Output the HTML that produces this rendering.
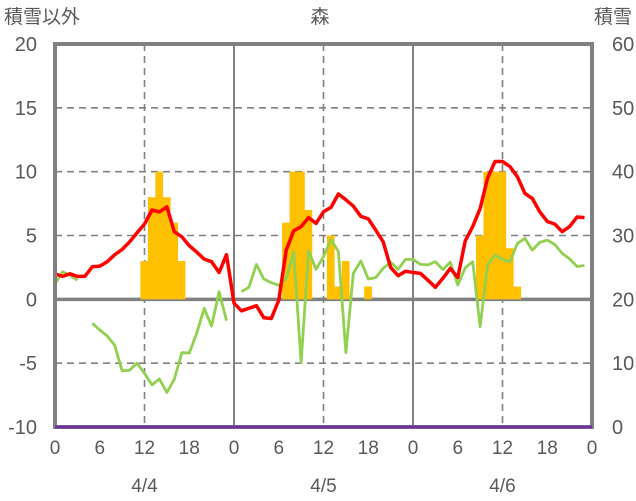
<!DOCTYPE html>
<html><head><meta charset="utf-8">
<style>
html,body{margin:0;padding:0;background:#fff;}
svg{display:block;font-family:"Liberation Sans","Noto Sans CJK JP",sans-serif;}
</style></head>
<body>
<svg id="chart" width="636" height="501" viewBox="0 0 636 501" xmlns="http://www.w3.org/2000/svg">
<text x="4" y="23" font-size="19" fill="#595959">積雪以外</text>
<text x="320" y="23" font-size="19" fill="#595959" text-anchor="middle">森</text>
<text x="632" y="23" font-size="19" fill="#595959" text-anchor="end">積雪</text>
<g id="grid"></g>
<g id="bars"></g>
<g id="lines"></g>
<g id="frame"></g>
<g id="labels"></g>
</svg>
<script>
const leftTicks = [20, 15, 10, 5, 0, -5, -10];
const rightTicks = ["60", "50", "40", "30", "20", "10", "0"];
const hourTickLabels = ["0","6","12","18","0","6","12","18","0","6","12","18","0"];
const dateLabels = ["4/4", "4/5", "4/6"];
const snowfallHours = [12,13,14,15,16,17,31,32,33,34,37,38,39,42,57,58,59,60,61,62];
const snowfallValues = [3,8,10,8,6,3,6,10,10,7,5,1,3,1,5,10,10,10,4,1];
const redSeries = [2.0,1.8,2.0,1.8,1.8,2.55,2.6,2.95,3.5,3.9,4.5,5.2,5.9,7.0,6.85,7.25,5.3,4.9,4.2,3.7,3.15,2.95,2.1,3.5,
 -0.3,-0.9,-0.7,-0.5,-1.44,-1.5,-0.06,3.85,5.37,5.7,6.4,5.95,6.86,7.2,8.25,7.8,7.3,6.5,6.3,5.43,4.5,2.5,1.85,2.2,
 2.1,2.03,1.5,0.94,1.64,2.42,1.7,4.57,5.7,7.1,9.5,10.8,10.8,10.4,9.6,8.3,7.9,6.86,6.1,5.9,5.3,5.7,6.45,6.4];
const greenSeries = [1.2,2.16,1.9,1.5,null,-1.88,-2.4,-2.87,-3.6,-5.6,-5.55,-5.0,-5.8,-6.7,-6.24,-7.3,-6.26,-4.18,-4.2,-2.66,-0.7,-2.1,0.6,-1.67,
 null,0.6,0.94,2.74,1.59,1.3,1.1,1.64,3.73,-4.96,3.8,2.35,3.34,4.7,3.73,-4.18,2.03,3.0,1.59,1.7,2.43,2.9,2.35,3.13,
 3.13,2.74,2.7,2.95,2.34,2.9,1.12,2.47,2.95,-2.14,2.7,3.47,3.13,2.95,4.38,4.77,3.86,4.46,4.64,4.3,3.6,3.17,2.57,2.65];
const snowDepth = [0, 0];

const X0 = 55, X1 = 592, Y0 = 44, Y1 = 427;
const HOURS = 72;
function xs(h){ return X0 + (X1 - X0) * h / HOURS; }
function yl(v){ return Y1 - (Y1 - Y0) * (v + 10) / 30; }
function yr(v){ return Y1 - (Y1 - Y0) * v / 60; }
const NS = "http://www.w3.org/2000/svg";
function mk(tag, attrs, parent){
  const e = document.createElementNS(NS, tag);
  for (const k in attrs) e.setAttribute(k, attrs[k]);
  document.getElementById(parent).appendChild(e);
  return e;
}
// horizontal grid
leftTicks.forEach(v => {
  if (v === 20 || v === -10) return;
  const l = mk('line', {x1:X0, x2:X1, y1:yl(v), y2:yl(v), stroke:'#808080', 'stroke-width': v===0?3.5:1.6, 'stroke-dasharray': v===0?'none':'7,5'}, 'grid');
  
  
});
// vertical grid
[12, 24, 36, 48, 60].forEach(h => {
  const solid = h % 24 === 0;
  const l = mk('line', {x1:xs(h), x2:xs(h), y1:Y0, y2:Y1, stroke:'#808080', 'stroke-width': solid?2:1.6, 'stroke-dasharray': solid?'none':'7,5'}, 'grid');
  
  
});
// bars
snowfallHours.forEach((h, i) => {
  const v = snowfallValues[i];
  const r = mk('rect', {x:xs(h-0.55), y:yl(v), width:xs(1)-X0+0.3, height:yl(0)-yl(v), fill:'#FFC000'}, 'bars');
  
  
});
// lines
function drawLine(series, color, name, w){
  let d = '', pen = false;
  series.forEach((v, h) => {
    if (v === null) { pen = false; return; }
    d += (pen ? 'L' : 'M') + xs(h).toFixed(1) + ',' + yl(v).toFixed(1);
    pen = true;
  });
  const p = mk('path', {d:d, fill:'none', stroke:color, 'stroke-width':w, 'stroke-linejoin':'round'}, 'lines');
  
  
}
drawLine(greenSeries, '#92D050', 'green-series-line', 2.8);
drawLine(redSeries, '#FF0000', 'red-series-line', 3.5);
const sd = mk('line', {x1:X0, x2:X1, y1:yr(snowDepth[0]), y2:yr(snowDepth[1]), stroke:'#7030A0', 'stroke-width':3}, 'lines');


// frame
const fr = mk('rect', {x:X0, y:Y0, width:X1-X0, height:Y1-Y0, fill:'none', stroke:'#808080', 'stroke-width':4}, 'frame');


sd.parentNode.appendChild(sd);
document.getElementById('frame').appendChild(sd);
// labels
leftTicks.forEach((v, i) => {
  const t = mk('text', {x:37, y:yl(v)+7, 'font-size':20, fill:'#595959', 'text-anchor':'end'}, 'labels');
  t.textContent = String(v);
  
  
  const r = mk('text', {x:612, y:yl(v)+7, 'font-size':20, fill:'#595959', 'text-anchor':'start'}, 'labels');
  r.textContent = rightTicks[i];
  
  
});
hourTickLabels.forEach((s, i) => {
  const t = mk('text', {x:xs(i*6), y:454, 'font-size':19, fill:'#595959', 'text-anchor':'middle'}, 'labels');
  t.textContent = s;
  
  
});
dateLabels.forEach((s, i) => {
  const t = mk('text', {x:xs(12 + 24*i), y:492, 'font-size':19, fill:'#595959', 'text-anchor':'middle'}, 'labels');
  t.textContent = s;
  
  
});
</script>
</body></html>
